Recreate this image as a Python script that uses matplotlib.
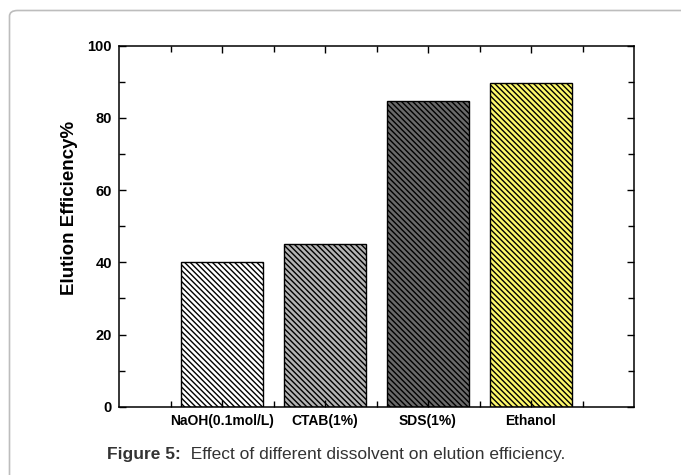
import numpy as np
import matplotlib.pyplot as plt
from matplotlib.patches import FancyBboxPatch

plt.rcParams['font.family'] = ['Liberation Sans', 'DejaVu Sans']
plt.rcParams['hatch.linewidth'] = 1.0

# data
solvents = ["NaOH(0.1mol/L)", "CTAB(1%)", "SDS(1%)", "Ethanol"]
efficiency = [40.0, 45.0, 84.8, 89.6]
face_colors = ["#ffffff", "#b4b4b4", "#6a6a6a", "#fdf86a"]

fig = plt.figure(figsize=(6.81, 4.75), dpi=100)

# light rounded frame round the figure panel
frame = FancyBboxPatch((9.5 / 681, -0.1), 1.2, 1.0 - 10.5 / 475 + 0.1,
                       boxstyle="round,pad=0,rounding_size=0.012",
                       transform=fig.transFigure, fill=False,
                       edgecolor="#bdbdbd", linewidth=1.2)
fig.patches.append(frame)

ax = fig.add_axes([119 / 681, 1 - 406.7 / 475, (634 - 119) / 681, (406.7 - 45.7) / 475])

x = np.arange(1, len(solvents) + 1)
for xi, val, fc in zip(x, efficiency, face_colors):
    ax.bar(xi, val, width=0.8, color=fc, edgecolor="black", linewidth=1.0,
           hatch="\\" * 6)

ax.set_xlim(0, 5)
ax.set_ylim(0, 100)
ax.set_xticks(x)
ax.set_xticklabels(solvents, fontsize=10, fontweight="bold")
ax.set_xticks(np.arange(0.5, 5, 1.0), minor=True)
ax.set_yticks(np.arange(0, 101, 20))
ax.set_yticklabels([str(v) for v in range(0, 101, 20)], fontsize=10.5, fontweight="bold")
ax.set_yticks(np.arange(10, 100, 20), minor=True)

ax.tick_params(which="both", direction="in", top=True, right=True, width=1.0)
ax.tick_params(which="major", length=5, pad=5)
ax.tick_params(which="minor", length=4)
for s in ax.spines.values():
    s.set_linewidth(1.1)

ax.set_ylabel("Elution Efficiency%", fontsize=13.5, fontweight="bold")
ax.yaxis.set_label_coords(-0.08, 0.55)

t1 = fig.text(107 / 681, 1 - 455 / 475, "Figure 5:", fontsize=12.5,
              fontweight="bold", color="#333333", va="center")
ax.annotate("  Effect of different dissolvent on elution efficiency.",
            xy=(1, 0), xycoords=t1, va="bottom", ha="left",
            fontsize=12.5, color="#333333", annotation_clip=False)

fig.savefig("out.png", dpi=100)
